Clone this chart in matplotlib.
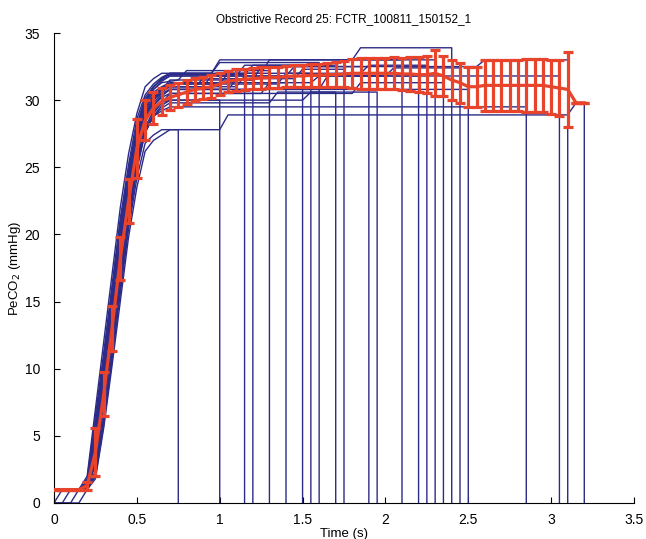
# Capnogram overlay: individual breaths (blue) and mean +/- std (red)

import matplotlib
matplotlib.use("Agg")
import matplotlib.pyplot as plt

plt.rcParams['font.family'] = ['Liberation Sans', 'DejaVu Sans']

TITLE = "Obstrictive Record 25: FCTR_100811_150152_1"

# ---- individual breaths -------------------------------------------------
# time where a breath leaves the zero baseline (None = starts at 1 mmHg)
LEAD_T = [0.00, 0.05, 0.10, 0.15, None, None, None, None, None, None, None, None, None,
          None, None, None, None, None, None, None, None, None, None, None, None]

# upstroke samples, shared sample times
RISE_T = [0.20, 0.25, 0.30, 0.35, 0.40, 0.45, 0.50, 0.55, 0.60]
RISE_Y = [
    [1.0, 1.8, 5.6, 10.2, 15.0, 19.8, 23.5, 26.2, 27.0],
    [1.1, 3.2, 7.5, 12.5, 17.4, 21.8, 25.6, 28.0, 29.2],
    [1.3, 4.5, 9.0, 14.0, 19.0, 23.2, 27.0, 29.0, 30.0],
    [1.2, 3.6, 8.0, 12.8, 17.8, 22.0, 26.0, 28.4, 29.6],
    [1.6, 5.5, 10.0, 15.0, 20.0, 24.2, 27.8, 29.8, 30.8],
    [1.1, 2.8, 7.0, 11.8, 16.8, 21.2, 25.2, 27.8, 29.0],
    [1.5, 5.0, 9.8, 14.8, 19.8, 24.0, 27.6, 29.8, 31.0],
    [1.3, 4.2, 8.6, 13.4, 18.4, 22.8, 26.6, 28.8, 30.0],
    [1.8, 6.5, 11.2, 16.2, 21.2, 25.2, 28.6, 30.4, 31.2],
    [1.0, 2.2, 6.2, 11.0, 16.0, 20.8, 24.8, 27.6, 28.8],
    [1.4, 4.8, 9.4, 14.4, 19.4, 23.6, 27.2, 29.4, 30.4],
    [1.2, 3.8, 8.2, 13.2, 18.2, 22.6, 26.4, 28.8, 30.0],
    [1.1, 3.0, 7.2, 12.0, 17.0, 21.4, 25.4, 27.6, 28.8],
    [1.7, 6.0, 10.8, 15.8, 20.8, 24.8, 28.2, 30.2, 31.0],
    [1.3, 4.0, 8.4, 13.4, 18.4, 22.8, 26.8, 29.0, 30.0],
    [1.4, 4.6, 9.2, 14.2, 19.2, 23.4, 27.0, 29.2, 30.4],
    [1.6, 5.6, 10.4, 15.4, 20.4, 24.6, 28.0, 30.0, 31.0],
    [1.1, 3.4, 7.8, 12.6, 17.6, 22.0, 26.0, 28.4, 29.6],
    [2.0, 7.0, 12.0, 17.0, 22.0, 26.0, 29.0, 31.0, 31.6],
    [1.3, 4.4, 8.8, 13.8, 18.8, 23.0, 26.8, 29.0, 30.2],
    [1.2, 3.4, 7.8, 12.8, 17.8, 22.2, 26.2, 28.6, 29.8],
    [1.0, 2.4, 6.4, 11.2, 16.2, 21.0, 25.0, 27.6, 28.8],
    [1.4, 4.8, 9.6, 14.6, 19.6, 23.8, 27.4, 29.6, 30.6],
    [1.5, 5.2, 10.0, 15.0, 20.0, 24.2, 27.8, 29.8, 30.8],
    [1.0, 2.0, 5.8, 10.6, 15.6, 20.4, 24.2, 26.8, 27.4],
]

# plateau vertices (t, PeCO2) after the upstroke
PLATEAU = [
    [(0.65, 27.4), (0.70, 27.8)],
    [(0.65, 29.8), (0.70, 30.0)],
    [(0.65, 30.6), (0.70, 31.0), (0.90, 31.0), (0.95, 31.8)],
    [(0.65, 30.3), (0.70, 30.8), (1.05, 30.8), (1.10, 31.5)],
    [(0.65, 31.3), (0.75, 31.5), (0.80, 32.2)],
    [(0.65, 29.8), (0.70, 30.5), (1.25, 30.5), (1.30, 31.3)],
    [(0.65, 31.5), (0.70, 31.8), (1.10, 31.8), (1.15, 32.6)],
    [(0.65, 30.8), (0.70, 31.2), (1.35, 31.2), (1.40, 32.0)],
    [(0.65, 31.7), (0.70, 32.0), (0.95, 32.0), (1.00, 32.8)],
    [(0.65, 29.6), (0.70, 30.0), (1.50, 30.0), (1.55, 30.6)],
    [(0.65, 30.8), (0.70, 31.0), (0.85, 31.0), (0.90, 31.6), (1.45, 31.6), (1.50, 32.3)],
    [(0.65, 30.8), (0.70, 31.5), (1.20, 31.5), (1.25, 32.5)],
    [(0.65, 29.4), (0.70, 29.8), (1.30, 29.8), (1.35, 30.6)],
    [(0.65, 31.6), (0.70, 31.9), (1.15, 31.9), (1.20, 32.6), (1.70, 32.6), (1.75, 33.0)],
    [(0.65, 30.5), (0.70, 30.8), (1.60, 30.8), (1.65, 31.8)],
    [(0.65, 30.9), (0.70, 31.2), (1.00, 31.2), (1.05, 32.0), (1.85, 32.0), (1.90, 32.6)],
    [(0.65, 31.6), (0.70, 32.0), (1.25, 32.0), (1.30, 33.0)],
    [(0.65, 30.2), (0.70, 30.5), (1.80, 30.5), (1.85, 31.3)],
    [(0.65, 32.0), (0.95, 32.0), (1.00, 33.0), (1.80, 33.0), (1.85, 33.9), (2.35, 33.9)],
    [(0.65, 30.8), (0.70, 31.0), (1.10, 31.0), (1.15, 31.8), (2.00, 31.8), (2.05, 32.4)],
    [(0.65, 30.4), (0.70, 30.8)],
    [(0.65, 29.2), (0.70, 29.5)],
    [(0.65, 31.0), (0.70, 31.3), (1.55, 31.3), (1.60, 31.8)],
    [(0.65, 31.4), (0.70, 31.8), (1.40, 31.8), (1.45, 32.5), (2.55, 32.5), (2.60, 33.0)],
    [(0.65, 27.8), (1.00, 27.8), (1.05, 28.9), (3.10, 28.9), (3.15, 29.8)],
]

# end of each breath (drop back to zero)
END_T = [0.75, 1.00, 1.15, 1.20, 1.30, 1.40, 1.50, 1.55, 1.60, 1.70, 1.75, 1.90, 1.95,
         2.10, 2.20, 2.25, 2.30, 2.35, 2.40, 2.45, 2.50, 2.85, 3.05, 3.10, 3.20]

# ---- ensemble mean and std -------------------------------------------------
MEAN_T = [0.00, 0.05, 0.10, 0.15, 0.20, 0.25, 0.30, 0.35, 0.40, 0.45, 0.50, 0.55, 0.60,
          0.65, 0.70, 0.75, 0.80, 0.85, 0.90, 0.95, 1.00, 1.05, 1.10, 1.15, 1.20, 1.25,
          1.30, 1.35, 1.40, 1.45, 1.50, 1.55, 1.60, 1.65, 1.70, 1.75, 1.80, 1.85, 1.90,
          1.95, 2.00, 2.05, 2.10, 2.15, 2.20, 2.25, 2.30, 2.35, 2.40, 2.45, 2.50, 2.55,
          2.60, 2.65, 2.70, 2.75, 2.80, 2.85, 2.90, 2.95, 3.00, 3.05, 3.10, 3.15, 3.20]
MEAN_Y = [1.0, 1.0, 1.0, 1.0, 1.3, 3.8, 8.1, 13.0, 18.2, 22.5, 26.4, 28.5, 29.4,
          29.9, 30.2, 30.4, 30.6, 30.8, 30.9, 31.0, 31.2, 31.4, 31.5, 31.55, 31.6, 31.65,
          31.7, 31.7, 31.75, 31.8, 31.8, 31.85, 31.85, 31.9, 31.9, 31.95, 32.0, 32.0, 32.0,
          32.0, 32.0, 32.0, 31.95, 31.95, 31.9, 31.9, 32.0, 31.8, 31.5, 31.3, 31.0, 31.0,
          31.1, 31.1, 31.1, 31.1, 31.1, 31.1, 31.1, 31.1, 31.0, 30.9, 30.8, 29.8, 29.8]
STD_Y = [0.0, 0.0, 0.0, 0.0, 0.3, 1.8, 1.65, 1.65, 1.6, 1.65, 2.2, 1.5, 1.2,
         1.0, 0.9, 0.9, 0.9, 0.85, 0.85, 0.85, 0.8, 0.8, 0.8, 0.8, 0.8, 0.8,
         0.8, 0.8, 0.8, 0.8, 0.8, 0.85, 0.85, 0.9, 0.95, 1.0, 1.1, 1.15, 1.15,
         1.15, 1.15, 1.2, 1.2, 1.25, 1.3, 1.4, 1.7, 1.5, 1.5, 1.5, 1.5, 1.5,
         1.9, 1.9, 1.9, 1.9, 1.9, 1.95, 1.95, 2.0, 2.0, 2.1, 2.8, 0.0, 0.0]

XTICKS = [0, 0.5, 1, 1.5, 2, 2.5, 3, 3.5]
XTICK_LABELS = ["0", "0.5", "1", "1.5", "2", "2.5", "3", "3.5"]
YTICKS = [0, 5, 10, 15, 20, 25, 30, 35]

BLUE = "#2b2b88"
RED = "#e8432b"


def build_trace(i):
    ts, ys = [], []
    if LEAD_T[i] is None:
        ts += [0.0, 0.15]
        ys += [1.0, 1.0]
    else:
        ts += [0.0, LEAD_T[i], LEAD_T[i] + 0.05]
        ys += [0.0, 0.0, 1.0]
    ts += RISE_T
    ys += RISE_Y[i]
    for t, y in PLATEAU[i]:
        ts.append(t)
        ys.append(y)
    ts += [END_T[i], END_T[i]]
    ys += [ys[-1], 0.0]
    return ts, ys


def main():
    fig = plt.figure(figsize=(6.46, 5.39), dpi=100)
    ax = fig.add_axes([54 / 646, 36 / 539, 580 / 646, 470 / 539])

    for i in range(len(END_T)):
        ts, ys = build_trace(i)
        ax.plot(ts, ys, color=BLUE, lw=1.0)

    ax.errorbar(MEAN_T, MEAN_Y, yerr=STD_Y, fmt='-', color=RED, lw=2.3,
                elinewidth=2.3, capsize=3.8, capthick=2.3, zorder=5)

    ax.set_xlim(0, 3.5)
    ax.set_ylim(0, 35)
    ax.set_xticks(XTICKS)
    ax.set_xticklabels(XTICK_LABELS)
    ax.set_yticks(YTICKS)
    ax.tick_params(direction='in', length=4, labelsize=10, width=0.8)
    ax.tick_params(axis='x', pad=7)
    ax.tick_params(axis='y', pad=10)
    ax.spines['top'].set_visible(False)
    ax.spines['right'].set_visible(False)

    ax.set_title(TITLE, fontsize=8.5, pad=8)
    ax.set_xlabel("Time (s)", fontsize=9.5, labelpad=1)
    ax.set_ylabel("PeCO$_2$ (mmHg)", fontsize=9.5, labelpad=1)

    fig.savefig("out.png", dpi=100)


if __name__ == "__main__":
    main()
